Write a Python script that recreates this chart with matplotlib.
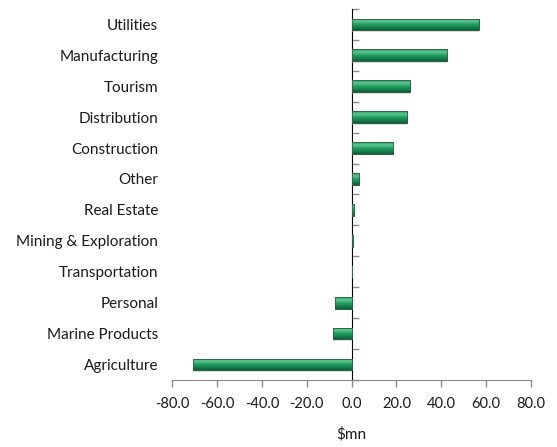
import numpy as np
import matplotlib
matplotlib.use("Agg")
from matplotlib import pyplot as plt
from matplotlib.colors import LinearSegmentedColormap

plt.rcParams['font.family'] = ['Lato', 'DejaVu Sans']

sectors = ["Agriculture", "Marine Products", "Personal", "Transportation",
           "Mining & Exploration", "Real Estate", "Other", "Construction",
           "Distribution", "Tourism", "Manufacturing", "Utilities"]
values = [-70.6, -8.5, -7.3, 0.3, 0.8, 1.0, 3.4, 18.4, 24.6, 26.1, 42.4, 56.6]
xticks = [-80, -60, -40, -20, 0, 20, 40, 60, 80]

fig = plt.figure(figsize=(5.57, 4.47), dpi=100)
ax = fig.add_axes([0.309, 0.150, 0.6445, 0.830])

y = np.arange(len(sectors))
h = 0.38
grey = "#8c8c8c"

# bar gradient (dark bottom, light top band, like the Excel bevel)
cmap = LinearSegmentedColormap.from_list(
    "bev", ["#0c5f37", "#17834d", "#23a062", "#5fc690", "#2a9e63"])
grad = np.linspace(0, 1, 64).reshape(-1, 1)

# shadows
ax.barh(y - 0.05, values, height=h, left=0, color="#b0b0b0", alpha=0.45,
        zorder=1, linewidth=0)
bars = ax.barh(y, values, height=h, color="#1a8a55",
               edgecolor="#2f5f47", linewidth=0.6, zorder=2)
for b in bars:
    x0, y0 = b.get_x(), b.get_y()
    w, hh = b.get_width(), b.get_height()
    im = ax.imshow(grad, cmap=cmap, aspect="auto", origin="lower",
                   extent=(min(x0, x0 + w), max(x0, x0 + w), y0, y0 + hh),
                   zorder=3)
    im.set_clip_path(b)
    ax.add_patch(plt.Rectangle((x0, y0), w, hh, fill=False,
                               edgecolor="#2f5f47", linewidth=0.6, zorder=4))

ax.set_xlim(-80, 80)
ax.set_ylim(-0.5, len(sectors) - 0.5)

ax.set_yticks(y, sectors)
ax.tick_params(axis="y", length=0, pad=10, labelsize=11, colors="#1a1a1a")
ax.set_xticks(xticks, [f"{v:.1f}" for v in xticks])
ax.tick_params(axis="x", direction="out", length=5, color=grey, width=1,
               labelsize=10.5, pad=7, labelcolor="#1a1a1a")

for s in ["top", "right", "left"]:
    ax.spines[s].set_visible(False)
ax.spines["bottom"].set_color(grey)

# category axis drawn at zero
sec = ax.secondary_yaxis(0.5)
sec.set_yticks(np.arange(len(sectors) + 1) - 0.5)
sec.set_yticklabels([])
sec.tick_params(direction="out", length=5, color=grey, width=1)
sec.spines["left"].set_color(grey)
sec.spines["left"].set_linewidth(1.2)

ax.set_xlabel("$mn", fontsize=11, labelpad=12, color="#1a1a1a")

fig.savefig("out.png", dpi=100)
